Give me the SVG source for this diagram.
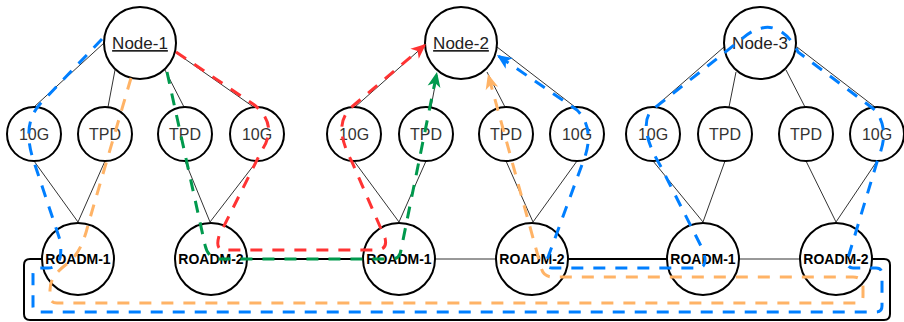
<svg xmlns="http://www.w3.org/2000/svg" width="904" height="322" viewBox="0 0 904 322">
<defs>
<style>
.big{fill:#fff;stroke:#000;stroke-width:2}
.sm{fill:#fff;stroke:#000;stroke-width:2}
.lbl{font-family:"Liberation Sans",Arial,sans-serif;font-size:17px;fill:#222;text-anchor:middle}
.ul{text-decoration:underline}
.sl{font-family:"Liberation Sans",Arial,sans-serif;font-size:16px;fill:#333;text-anchor:middle}
.rl{font-family:"Liberation Sans",Arial,sans-serif;font-size:14px;font-weight:bold;fill:#000;text-anchor:middle}
.thin{stroke:#333;stroke-width:1;fill:none}
.thick{stroke:#000;stroke-width:2;fill:none}
.d{fill:none;stroke-width:3;stroke-dasharray:12 10}
.blue{stroke:#007FFF}.orange{stroke:#FFB366}.red{stroke:#FF3333}.green{stroke:#00994D}
</style>
<marker id="ar" viewBox="-14 -7 17 14" markerWidth="17" markerHeight="14" refX="0" refY="0" orient="auto" markerUnits="userSpaceOnUse"><path d="M2 0 L-13 -6.5 L-9 0 L-13 6.5 Z" fill="#FF3333"/></marker>
<marker id="ag" viewBox="-14 -7 17 14" markerWidth="17" markerHeight="14" refX="0" refY="0" orient="auto" markerUnits="userSpaceOnUse"><path d="M2 0 L-13 -6.5 L-9 0 L-13 6.5 Z" fill="#00994D"/></marker>
<marker id="ao" viewBox="-14 -7 17 14" markerWidth="17" markerHeight="14" refX="0" refY="0" orient="auto" markerUnits="userSpaceOnUse"><path d="M2 0 L-13 -6.5 L-9 0 L-13 6.5 Z" fill="#FFB366"/></marker>
<marker id="ab" viewBox="-14 -7 17 14" markerWidth="17" markerHeight="14" refX="0" refY="0" orient="auto" markerUnits="userSpaceOnUse"><path d="M2 0 L-13 -6.5 L-9 0 L-13 6.5 Z" fill="#007FFF"/></marker>
</defs>
<g id="links">
<path class="thin" d="M104 43 L34 107 M115 70 L108 107 M165 70 L184 107 M175 52 L255 108"/>
<path class="thin" d="M425 45 L355 107 M437 75 L431 107 M487 72 L505 107 M497 47 L575 107"/>
<path class="thin" d="M724 47 L655 107 M736 72 L729 107 M786 70 L805 107 M797 47 L875 107"/>
<path class="thin" d="M34 161 L78 222 M105 161 L78 222 M185 161 L210 222 M257 161 L210 222"/>
<path class="thin" d="M354 161 L399 222 M426 161 L399 222 M506 161 L533 222 M577 161 L533 222"/>
<path class="thin" d="M653 161 L703 222 M725 161 L703 222 M806 161 L836 222 M877 161 L836 222"/>
<path class="thin" d="M435 259 L496 259 M739 259 L800 259"/>
<path class="thick" d="M247 259 L363 259 M568 259 L667 259"/>
<path class="thick" d="M42 259 H30 Q24 259 24 265 V314 Q24 320 30 320 H884 Q890 320 890 314 V265 Q890 259 884 259 H872"/>
</g>
<g id="node-1"><circle class="big" cx="140" cy="43" r="36"/><text class="lbl ul" x="140" y="49">Node-1</text></g>
<g id="node-2"><circle class="big" cx="461" cy="43" r="36"/><text class="lbl ul" x="461" y="49">Node-2</text></g>
<g id="node-3"><circle class="big" cx="760" cy="43" r="36"/><text class="lbl" x="760" y="49">Node-3</text></g>
<g id="n1-10g-a"><circle class="sm" cx="34" cy="134" r="27"/><text class="sl" x="34" y="140">10G</text></g>
<g id="n1-tpd-a"><circle class="sm" cx="105" cy="134" r="27"/><text class="sl" x="105" y="140">TPD</text></g>
<g id="n1-tpd-b"><circle class="sm" cx="185" cy="134" r="27"/><text class="sl" x="185" y="140">TPD</text></g>
<g id="n1-10g-b"><circle class="sm" cx="257" cy="134" r="27"/><text class="sl" x="257" y="140">10G</text></g>
<g id="n2-10g-a"><circle class="sm" cx="354" cy="134" r="27"/><text class="sl" x="354" y="140">10G</text></g>
<g id="n2-tpd-a"><circle class="sm" cx="426" cy="134" r="27"/><text class="sl" x="426" y="140">TPD</text></g>
<g id="n2-tpd-b"><circle class="sm" cx="506" cy="134" r="27"/><text class="sl" x="506" y="140">TPD</text></g>
<g id="n2-10g-b"><circle class="sm" cx="577" cy="134" r="27"/><text class="sl" x="577" y="140">10G</text></g>
<g id="n3-10g-a"><circle class="sm" cx="653" cy="134" r="27"/><text class="sl" x="653" y="140">10G</text></g>
<g id="n3-tpd-a"><circle class="sm" cx="725" cy="134" r="27"/><text class="sl" x="725" y="140">TPD</text></g>
<g id="n3-tpd-b"><circle class="sm" cx="806" cy="134" r="27"/><text class="sl" x="806" y="140">TPD</text></g>
<g id="n3-10g-b"><circle class="sm" cx="877" cy="134" r="27"/><text class="sl" x="877" y="140">10G</text></g>
<g id="n1-roadm-1"><circle class="big" cx="78" cy="259" r="36"/><text class="rl" x="78" y="264">ROADM-1</text></g>
<g id="n1-roadm-2"><circle class="big" cx="211" cy="259" r="36"/><text class="rl" x="211" y="264">ROADM-2</text></g>
<g id="n2-roadm-1"><circle class="big" cx="399" cy="259" r="36"/><text class="rl" x="399" y="264">ROADM-1</text></g>
<g id="n2-roadm-2"><circle class="big" cx="532" cy="259" r="36"/><text class="rl" x="532" y="264">ROADM-2</text></g>
<g id="n3-roadm-1"><circle class="big" cx="703" cy="259" r="36"/><text class="rl" x="703" y="264">ROADM-1</text></g>
<g id="n3-roadm-2"><circle class="big" cx="836" cy="259" r="36"/><text class="rl" x="836" y="264">ROADM-2</text></g>
<g id="paths">
<path class="d blue" marker-end="url(#ab)" d="M102 39 L40 104 C26 120 26 140 35 165 L60 240 Q64 268 48 268 L39 268 Q33 268 33 274 L33 306 Q33 312 39 312 L876 312 Q882 312 882 306 L882 274 Q882 268 876 268 L853 268 Q846 268 848 258 L877 162 C882 148 890 130 875 110 L798 52 C790 35 775 24 762 28 C752 30 745 36 738 42 L652 110 C642 120 645 140 660 165 L703 250 C707 262 705 268 698 268 L552 268 Q545 268 547 260 L583 162 C590 145 592 125 577 110 L498.6 56.1"/>
<path class="d orange" marker-end="url(#ao)" d="M131 78 L88 225 C84 242 78 255 68 263 C55 273 50 280 50 290 L50 296 Q50 303 57 303 L856 303 Q863 303 863 296 L863 287 Q863 277 853 277 L553 277 Q543 277 541 267 L488.5 75.9"/>
<path class="d red" marker-end="url(#ar)" d="M176 52 L253 104 C272 118 272 135 262 150 L219 236 Q215 250 224 250 L376 250 Q388 250 385 238 L352 162 C338 135 338 118 354 105 L424.5 45.3"/>
<path class="d green" marker-end="url(#ag)" d="M167 72 L205 245 Q208 259 220 259 L392 259 Q400 259 401 250 L436.6 74"/>
</g>
</svg>
